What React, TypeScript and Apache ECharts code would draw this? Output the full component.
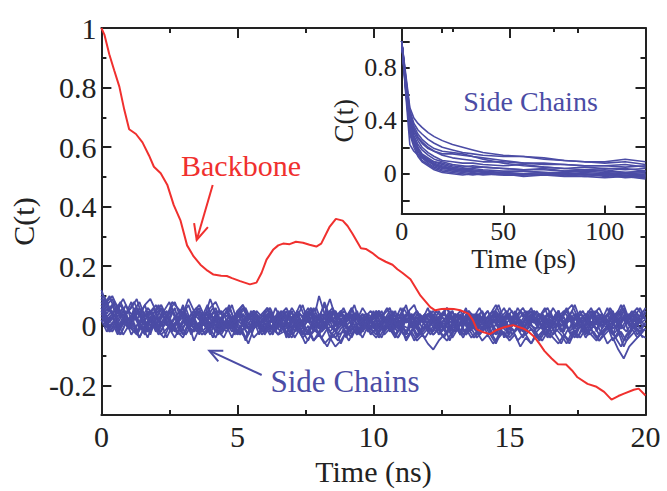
import React, { useEffect, useRef } from "react";
import * as echarts from "echarts";

// ---------- Main panel: time grids (ns) for side-chain traces ----------
const mainTime = [
  0, 0.2, 0.4, 0.6, 0.8, 1, 1.2, 1.4, 1.6, 1.8,
  2, 2.2, 2.4, 2.6, 2.8, 3, 3.2, 3.4, 3.6, 3.8,
  4, 4.2, 4.4, 4.6, 4.8, 5, 5.2, 5.4, 5.6, 5.8,
  6, 6.2, 6.4, 6.6, 6.8, 7, 7.2, 7.4, 7.6, 7.8,
  8, 8.2, 8.4, 8.6, 8.8, 9, 9.2, 9.4, 9.6, 9.8,
  10, 10.2, 10.4, 10.6, 10.8, 11, 11.2, 11.4, 11.6, 11.8,
  12, 12.2, 12.4, 12.6, 12.8, 13, 13.2, 13.4, 13.6, 13.8,
  14, 14.2, 14.4, 14.6, 14.8, 15, 15.2, 15.4, 15.6, 15.8,
  16, 16.2, 16.4, 16.6, 16.8, 17, 17.2, 17.4, 17.6, 17.8,
  18, 18.2, 18.4, 18.6, 18.8, 19, 19.2, 19.4, 19.6, 19.8,
  20,
];
const mainTimeB = [
  0.1, 0.3, 0.5, 0.7, 0.9, 1.1, 1.3, 1.5, 1.7, 1.9,
  2.1, 2.3, 2.5, 2.7, 2.9, 3.1, 3.3, 3.5, 3.7, 3.9,
  4.1, 4.3, 4.5, 4.7, 4.9, 5.1, 5.3, 5.5, 5.7, 5.9,
  6.1, 6.3, 6.5, 6.7, 6.9, 7.1, 7.3, 7.5, 7.7, 7.9,
  8.1, 8.3, 8.5, 8.7, 8.9, 9.1, 9.3, 9.5, 9.7, 9.9,
  10.1, 10.3, 10.5, 10.7, 10.9, 11.1, 11.3, 11.5, 11.7, 11.9,
  12.1, 12.3, 12.5, 12.7, 12.9, 13.1, 13.3, 13.5, 13.7, 13.9,
  14.1, 14.3, 14.5, 14.7, 14.9, 15.1, 15.3, 15.5, 15.7, 15.9,
  16.1, 16.3, 16.5, 16.7, 16.9, 17.1, 17.3, 17.5, 17.7, 17.9,
  18.1, 18.3, 18.5, 18.7, 18.9, 19.1, 19.3, 19.5, 19.7, 19.9,
];

const sc01 = [
  0.11, 0.08, 0.1, 0.06, 0.09, 0.05, 0.08, 0.04, 0.07, 0.09,
  0.05, 0.07, 0.03, 0.08, 0.06, 0.04, 0.09, 0.05, 0.07, 0.03,
  0.06, 0.08, 0.04, 0.06, 0.02, 0.05, 0.07, 0.03, 0.05, 0.02,
  0.04, 0.06, 0.02, 0.05, 0.03, 0.01, 0.05, 0.03, 0.06, 0.02,
  0.04, 0.01, 0.03, 0.05, 0.02, 0.04, 0.0, 0.03, 0.01, 0.04,
  0.02, 0.05, 0.01, 0.03, 0.0, 0.04, 0.02, 0.03, 0.0, 0.02,
  0.04, 0.01, 0.03, -0.01, 0.02, 0.04, 0.0, 0.03, 0.01, 0.02,
  -0.01, 0.03, 0.01, 0.04, 0.0, 0.02, 0.03, -0.01, 0.02, 0.04,
  0.01, 0.03, 0.0, 0.02, 0.05, 0.01, 0.03, 0.0, 0.02, 0.04,
  0.01, 0.03, -0.01, 0.02, 0.04, 0.0, 0.03, 0.01, 0.05, 0.02,
  0.03,
];
const sc02 = [
  0.06, 0.02, 0.04, -0.01, 0.03, 0.0, 0.04, 0.01, -0.02, 0.03,
  0.0, 0.04, 0.01, -0.02, 0.02, 0.05, 0.0, 0.02, -0.01, 0.03,
  0.01, -0.02, 0.03, 0.0, 0.02, -0.03, 0.01, 0.04, -0.01, 0.02,
  -0.02, 0.01, 0.03, -0.01, 0.0, -0.03, -0.01, -0.04, -0.02, -0.05,
  -0.03, -0.06, -0.04, -0.07, -0.05, -0.02, -0.04, 0.0, -0.02, 0.01,
  -0.01, 0.02, -0.02, 0.0, -0.03, -0.01, -0.04, -0.02, -0.05, -0.03,
  -0.06, -0.08, -0.05, -0.03, -0.01, 0.01, -0.02, 0.02, 0.0, 0.03,
  0.01, -0.01, 0.02, 0.0, 0.03, -0.01, 0.01, 0.02, -0.02, 0.01,
  0.03, 0.0, 0.02, -0.01, 0.01, 0.03, -0.02, 0.0, 0.02, -0.01,
  0.01, 0.03, 0.0, 0.02, -0.01, 0.01, 0.03, 0.0, 0.02, -0.01,
  0.01,
];
const sc03 = [
  0.04, 0.01, 0.03, -0.01, 0.02, 0.0, -0.02, 0.02, 0.0, 0.03,
  -0.01, 0.01, 0.03, 0.0, -0.02, 0.01, 0.02, -0.01, 0.01, -0.03,
  0.0, 0.02, -0.01, 0.01, -0.02, 0.02, 0.0, -0.03, 0.01, 0.0,
  -0.01, 0.02, 0.0, -0.02, 0.01, -0.01, 0.02, 0.0, -0.03, 0.01,
  -0.01, 0.01, -0.02, 0.0, 0.02, -0.01, 0.0, -0.03, 0.01, -0.01,
  0.01, -0.02, 0.0, 0.02, -0.01, 0.01, -0.02, 0.0, -0.04, -0.02,
  0.0, -0.03, -0.01, 0.01, -0.02, 0.0, -0.03, -0.01, -0.04, -0.02,
  -0.05, -0.03, -0.06, -0.04, -0.02, -0.05, -0.03, -0.07, -0.04, -0.06,
  -0.03, -0.05, -0.02, -0.04, -0.06, -0.03, -0.05, -0.02, -0.04, -0.01,
  -0.03, -0.05, -0.02, -0.06, -0.04, -0.08, -0.11, -0.07, -0.05, -0.03,
  -0.04,
];
const sc04 = [
  0.09, 0.05, 0.07, 0.03, 0.06, 0.02, 0.05, 0.08, 0.03, 0.05,
  0.02, 0.06, 0.03, 0.05, 0.01, 0.04, 0.07, 0.02, 0.05, 0.03,
  0.09, 0.04, 0.02, 0.05, 0.01, 0.03, 0.06, 0.02, 0.04, 0.01,
  0.03, 0.05, 0.01, 0.04, 0.02, 0.06, 0.03, 0.01, 0.05, 0.02,
  0.1, 0.04, 0.02, 0.05, 0.01, 0.03, 0.06, 0.02, 0.04, 0.0,
  0.03, 0.05, 0.01, 0.04, 0.02, 0.06, 0.01, 0.03, 0.05, 0.02,
  0.04, 0.01, 0.05, 0.02, 0.04, 0.0, 0.03, 0.05, 0.01, 0.04,
  0.02, 0.05, 0.01, 0.03, 0.06, 0.02, 0.04, 0.0, 0.03, 0.05,
  0.01, 0.04, 0.02, 0.06, 0.03, 0.01, 0.04, 0.02, 0.05, 0.01,
  0.03, 0.05, 0.02, 0.04, 0.0, 0.03, 0.06, 0.02, 0.04, 0.01,
  0.05,
];
const sc05 = [
  0.05, 0.0, 0.03, -0.02, 0.02, -0.01, 0.03, 0.0, -0.03, 0.02,
  0.0, -0.02, 0.03, 0.01, -0.03, 0.02, -0.01, 0.01, -0.02, 0.03,
  -0.01, 0.02, -0.03, 0.0, 0.03, -0.02, 0.01, -0.01, 0.02, -0.03,
  0.01, -0.02, 0.02, 0.0, -0.03, 0.03, -0.01, 0.01, -0.02, 0.02,
  -0.01, 0.03, 0.0, -0.02, 0.02, -0.03, 0.01, 0.0, 0.03, -0.02,
  0.01, -0.01, 0.03, -0.02, 0.0, 0.02, -0.03, 0.01, -0.01, 0.03,
  0.0, -0.02, 0.02, -0.01, 0.03, 0.0, -0.03, 0.02, -0.01, 0.01,
  -0.02, 0.03, 0.0, -0.03, 0.02, -0.01, 0.01, -0.02, 0.03, 0.0,
  -0.01, 0.02, -0.03, 0.01, 0.0, -0.02, 0.03, -0.01, 0.02, -0.03,
  0.01, -0.01, 0.02, 0.0, -0.03, 0.02, -0.01, 0.03, 0.0, -0.02,
  0.01,
];
const sc06 = [
  0.07, 0.03, 0.05, 0.01, 0.04, -0.01, 0.03, 0.05, 0.0, 0.03,
  0.05, 0.0, 0.03, 0.06, 0.01, 0.03, -0.01, 0.04, 0.02, 0.0,
  0.03, 0.05, 0.0, 0.02, -0.01, 0.04, 0.01, 0.03, 0.05, 0.0,
  0.02, 0.04, -0.01, 0.03, 0.01, 0.05, 0.0, 0.02, 0.04, -0.01,
  0.03, 0.07, 0.01, 0.03, 0.0, 0.04, 0.02, 0.05, -0.01, 0.02,
  0.04, 0.0, 0.03, 0.01, 0.05, -0.01, 0.02, 0.04, 0.0, 0.03,
  0.01, 0.04, -0.01, 0.02, 0.05, 0.0, 0.03, 0.01, 0.04, 0.02,
  -0.01, 0.03, 0.05, 0.01, 0.02, 0.04, 0.0, 0.03, 0.05, 0.01,
  0.03, 0.0, 0.04, 0.02, 0.05, 0.01, 0.03, -0.01, 0.04, 0.02,
  0.05, 0.01, 0.03, 0.0, 0.04, 0.02, 0.05, 0.01, 0.03, 0.06,
  0.02,
];
const sc07 = [
  0.03, 0.0, -0.02, 0.01, -0.03, 0.0, -0.01, -0.04, 0.0, -0.02,
  0.01, -0.03, -0.01, 0.01, -0.02, -0.04, 0.0, -0.02, 0.01, -0.03,
  -0.01, -0.04, 0.0, -0.02, 0.01, -0.03, -0.01, 0.0, -0.04, -0.02,
  0.0, -0.03, -0.01, 0.01, -0.02, -0.04, 0.0, -0.02, -0.05, -0.01,
  -0.03, 0.0, -0.02, -0.04, -0.01, 0.01, -0.03, -0.01, -0.04, 0.0,
  -0.02, 0.01, -0.03, -0.01, -0.04, 0.0, -0.02, 0.01, -0.03, -0.01,
  0.0, -0.03, -0.01, -0.04, 0.0, -0.02, 0.01, -0.03, -0.01, -0.04,
  -0.02, 0.0, -0.03, -0.01, 0.01, -0.04, -0.02, 0.0, -0.03, -0.01,
  -0.04, -0.02, 0.0, -0.03, -0.01, 0.01, -0.02, -0.04, 0.0, -0.02,
  -0.01, -0.04, -0.02, 0.0, -0.03, -0.01, -0.05, -0.02, 0.0, -0.03,
  -0.01,
];
const sc08 = [
  0.08, 0.04, 0.07, 0.02, 0.05, 0.0, 0.06, 0.03, 0.07, 0.01,
  0.04, 0.06, 0.0, 0.05, 0.02, 0.07, 0.01, 0.04, 0.06, 0.0,
  0.03, 0.06, 0.01, 0.05, 0.0, 0.04, 0.07, 0.02, 0.04, -0.01,
  0.04, 0.01, 0.06, 0.02, 0.05, -0.01, 0.03, 0.07, 0.01, 0.04,
  0.02, 0.08, 0.03, 0.0, 0.05, 0.02, 0.06, 0.0, 0.04, 0.01,
  0.05, 0.0, 0.04, 0.06, 0.01, 0.03, 0.07, 0.0, 0.04, 0.02,
  0.06, 0.01, 0.03, 0.05, -0.01, 0.04, 0.02, 0.06, 0.0, 0.03,
  0.05, 0.01, 0.04, 0.07, 0.02, 0.04, 0.0, 0.05, 0.03, 0.06,
  0.01, 0.04, 0.06, 0.02, 0.05, 0.0, 0.03, 0.07, 0.02, 0.04,
  0.0, 0.05, 0.02, 0.06, 0.01, 0.04, 0.07, 0.02, 0.05, 0.03,
  0.06,
];
const sc09 = [
  0.02, -0.02, 0.01, -0.03, 0.02, -0.01, 0.01, -0.04, 0.0, 0.02,
  -0.02, 0.01, -0.04, 0.0, 0.02, -0.03, 0.01, -0.05, -0.01, 0.01,
  -0.03, 0.02, -0.02, 0.0, -0.04, 0.01, -0.02, -0.06, -0.01, 0.01,
  -0.03, 0.0, -0.02, 0.02, -0.04, -0.01, 0.01, -0.03, 0.0, -0.05,
  -0.02, 0.01, -0.04, -0.01, -0.06, -0.02, 0.0, -0.03, 0.01, -0.02,
  0.0, -0.04, -0.01, 0.02, -0.03, 0.0, -0.05, -0.02, 0.01, -0.03,
  -0.01, 0.02, -0.03, 0.0, -0.05, -0.01, 0.01, -0.03, 0.0, -0.02,
  0.01, -0.03, -0.01, 0.02, -0.04, 0.0, -0.02, 0.01, -0.03, -0.06,
  -0.02, 0.0, -0.04, -0.01, 0.01, -0.03, -0.06, -0.02, 0.0, -0.04,
  -0.01, 0.01, -0.03, 0.0, -0.05, -0.02, -0.07, -0.03, 0.0, -0.02,
  -0.01,
];
const sc10 = [
  0.1, 0.06, 0.04, 0.07, 0.02, 0.05, 0.03, 0.06, 0.02, 0.04,
  0.07, 0.03, 0.05, 0.01, 0.04, 0.06, 0.02, 0.05, 0.03, 0.0,
  0.04, 0.02, 0.05, 0.03, 0.07, 0.01, 0.04, 0.02, 0.05, 0.03,
  0.01, 0.05, 0.02, 0.04, 0.06, 0.02, 0.04, 0.01, 0.03, 0.06,
  0.02, 0.04, 0.09, 0.03, 0.05, 0.01, 0.04, 0.02, 0.06, 0.03,
  0.01, 0.04, 0.02, 0.05, 0.03, 0.0, 0.04, 0.02, 0.05, 0.01,
  0.03, 0.05, 0.02, 0.04, 0.01, 0.03, 0.05, 0.02, 0.04, 0.0,
  0.03, 0.05, 0.01, 0.04, 0.02, 0.06, 0.03, 0.01, 0.04, 0.02,
  0.05, 0.02, 0.04, 0.0, 0.03, 0.05, 0.02, 0.04, 0.01, 0.03,
  0.06, 0.02, 0.04, 0.01, 0.03, 0.05, 0.02, 0.04, 0.0, 0.03,
  0.04,
];
const sc11 = [
  0.06, 0.01, 0.04, -0.02, 0.03, 0.0, 0.05, -0.01, 0.02, -0.03,
  0.03, 0.0, 0.04, -0.02, 0.01, 0.05, -0.01, 0.02, -0.03, 0.03,
  0.0, 0.04, -0.02, 0.02, -0.01, 0.05, 0.0, -0.03, 0.03, 0.01,
  -0.02, 0.04, 0.0, 0.03, -0.03, 0.01, 0.05, -0.01, 0.02, -0.02,
  0.03, 0.0, 0.05, -0.02, 0.02, -0.04, 0.01, 0.04, -0.02, 0.02,
  0.0, 0.05, -0.02, 0.03, -0.01, 0.02, -0.03, 0.04, 0.0, 0.02,
  -0.02, 0.03, 0.0, 0.05, -0.01, 0.02, -0.03, 0.04, 0.01, -0.02,
  0.03, -0.01, 0.04, 0.0, 0.02, -0.03, 0.05, 0.01, -0.02, 0.03,
  0.0, 0.04, -0.02, 0.02, 0.05, -0.01, 0.03, -0.03, 0.02, 0.0,
  0.04, -0.02, 0.02, 0.0, 0.05, -0.01, 0.03, -0.03, 0.04, 0.01,
  0.02,
];
const sc12 = [
  0.12, 0.07, 0.09, 0.04, 0.06, 0.02, 0.05, 0.01, 0.04, 0.0,
  0.03, 0.01, 0.04, -0.01, 0.02, 0.04, 0.0, 0.03, -0.01, 0.02,
  0.04, 0.0, 0.02, -0.01, 0.03, 0.01, 0.04, -0.01, 0.02, 0.0,
  0.03, -0.01, 0.02, 0.04, 0.0, 0.02, -0.02, 0.01, 0.03, 0.0,
  0.02, -0.01, 0.03, 0.01, 0.04, 0.0, 0.02, -0.02, 0.01, 0.03,
  0.0, 0.02, -0.01, 0.03, 0.01, -0.02, 0.02, 0.0, 0.03, -0.01,
  0.01, 0.03, 0.0, 0.02, -0.02, 0.01, 0.04, 0.0, 0.02, -0.01,
  0.03, 0.0, 0.02, -0.01, 0.01, 0.04, 0.0, 0.02, -0.02, 0.01,
  0.03, -0.01, 0.02, 0.0, 0.04, 0.01, -0.01, 0.03, 0.0, 0.02,
  -0.01, 0.02, 0.04, 0.0, 0.01, -0.02, 0.03, 0.01, -0.01, 0.02,
  0.0,
];
const sideChainsMain = [sc01, sc02, sc03, sc04, sc05, sc06, sc07, sc08, sc09, sc10, sc11, sc12];

// traces sampled on the offset grid mainTimeB
const sb01 = [
  0.09, 0.05, 0.08, 0.03, 0.07, 0.02, 0.06, 0.01, 0.05, 0.03,
  0.0, 0.05, 0.02, 0.06, -0.01, 0.04, 0.01, 0.05, 0.0, 0.03,
  0.06, 0.01, 0.04, -0.01, 0.03, 0.05, 0.0, 0.04, 0.02, -0.01,
  0.04, 0.01, 0.05, 0.0, 0.03, -0.02, 0.04, 0.01, 0.06, 0.0,
  0.02, 0.05, -0.01, 0.03, 0.0, 0.04, 0.02, -0.02, 0.03, 0.01,
  0.05, 0.0, 0.03, -0.01, 0.04, 0.01, 0.05, -0.01, 0.02, 0.04,
  0.0, 0.03, -0.02, 0.02, 0.05, 0.0, 0.03, -0.01, 0.04, 0.01,
  0.03, -0.01, 0.05, 0.01, 0.03, 0.0, 0.04, -0.02, 0.02, 0.05,
  0.01, 0.03, -0.01, 0.04, 0.0, 0.02, 0.05, 0.01, -0.01, 0.03,
  0.04, 0.0, 0.02, 0.05, -0.01, 0.03, 0.01, 0.04, 0.0, 0.03,
];
const sb02 = [
  0.04, -0.01, 0.02, -0.03, 0.01, 0.03, -0.02, 0.0, -0.04, 0.01,
  -0.02, 0.02, -0.01, -0.04, 0.0, 0.02, -0.03, 0.01, -0.02, 0.0,
  -0.04, 0.01, -0.01, 0.02, -0.03, 0.0, -0.05, -0.01, 0.01, -0.02,
  0.0, -0.03, 0.02, -0.01, -0.04, 0.0, -0.02, -0.06, -0.03, -0.01,
  -0.04, -0.07, -0.03, -0.05, -0.01, -0.03, 0.0, -0.02, 0.01, -0.03,
  -0.01, -0.04, 0.0, -0.02, 0.01, -0.03, -0.01, -0.05, -0.02, 0.0,
  -0.03, 0.01, -0.02, 0.0, -0.04, -0.01, 0.02, -0.02, 0.0, -0.03,
  0.01, -0.02, -0.05, -0.01, 0.01, -0.03, 0.0, -0.02, 0.02, -0.01,
  -0.04, -0.01, 0.01, -0.03, -0.06, -0.02, 0.0, -0.04, -0.01, 0.01,
  -0.03, -0.05, -0.02, 0.0, -0.04, -0.07, -0.03, -0.01, -0.04, -0.02,
];
const sb03 = [
  0.1, 0.06, 0.03, 0.07, 0.04, 0.08, 0.02, 0.05, 0.03, 0.06,
  0.02, 0.05, 0.08, 0.03, 0.05, 0.01, 0.04, 0.06, 0.02, 0.04,
  0.01, 0.05, 0.03, 0.06, 0.02, 0.04, 0.0, 0.05, 0.02, 0.04,
  0.06, 0.01, 0.03, 0.05, 0.02, 0.04, 0.0, 0.03, 0.06, 0.02,
  0.04, 0.01, 0.05, 0.03, 0.06, 0.02, 0.04, 0.0, 0.03, 0.05,
  0.02, 0.04, 0.01, 0.05, 0.02, 0.06, 0.03, 0.0, 0.04, 0.02,
  0.05, 0.01, 0.03, 0.06, 0.02, 0.04, 0.01, 0.05, 0.02, 0.04,
  0.0, 0.03, 0.05, 0.02, 0.04, 0.01, 0.06, 0.03, 0.05, 0.01,
  0.04, 0.02, 0.05, 0.0, 0.03, 0.06, 0.02, 0.04, 0.01, 0.05,
  0.02, 0.04, 0.01, 0.06, 0.03, 0.05, 0.01, 0.04, 0.02, 0.05,
];
const sb04 = [
  0.03, 0.0, 0.02, -0.01, 0.03, 0.01, -0.02, 0.02, 0.0, 0.03,
  -0.01, 0.02, 0.0, 0.03, -0.02, 0.01, 0.02, -0.01, 0.03, 0.0,
  0.02, -0.02, 0.01, 0.03, 0.0, -0.01, 0.02, 0.0, 0.03, -0.02,
  0.01, 0.02, -0.01, 0.03, 0.0, 0.02, -0.02, 0.01, 0.03, -0.01,
  0.02, 0.0, 0.03, -0.01, 0.01, 0.02, -0.02, 0.02, 0.0, 0.03,
  -0.01, 0.01, 0.03, 0.0, -0.02, 0.02, 0.01, -0.01, 0.03, 0.0,
  0.02, -0.01, 0.01, 0.03, -0.02, 0.0, 0.02, 0.01, -0.01, 0.03,
  0.0, 0.02, -0.02, 0.01, 0.03, 0.0, 0.02, -0.01, 0.01, 0.03,
  -0.01, 0.02, 0.0, 0.03, -0.02, 0.01, 0.02, 0.0, 0.03, -0.01,
  0.01, 0.03, 0.0, -0.02, 0.02, 0.01, 0.03, -0.01, 0.02, 0.0,
];
const sb05 = [
  0.02, -0.02, 0.01, -0.01, 0.02, -0.03, 0.0, 0.02, -0.02, 0.01,
  -0.03, 0.0, 0.02, -0.02, 0.01, -0.03, 0.0, -0.01, 0.02, -0.02,
  0.0, -0.03, 0.01, -0.01, 0.02, -0.02, -0.04, 0.0, 0.01, -0.02,
  0.01, -0.01, -0.03, 0.01, -0.02, 0.0, 0.02, -0.03, -0.01, 0.01,
  -0.02, 0.0, -0.04, -0.01, 0.01, -0.02, 0.0, -0.03, 0.01, -0.01,
  -0.03, 0.0, 0.02, -0.02, -0.04, 0.0, -0.01, 0.01, -0.03, -0.01,
  0.01, -0.02, 0.0, -0.03, 0.01, -0.01, -0.04, 0.0, 0.02, -0.02,
  -0.01, 0.01, -0.03, 0.0, -0.02, 0.02, -0.01, -0.04, 0.0, -0.02,
  0.01, -0.03, -0.01, 0.01, -0.02, 0.0, -0.04, -0.01, 0.01, -0.02,
  0.0, -0.03, 0.01, -0.01, -0.04, 0.0, -0.02, 0.01, -0.03, -0.01,
];
const sb06 = [
  0.07, 0.1, 0.05, 0.08, 0.04, 0.06, 0.09, 0.03, 0.06, 0.04,
  0.07, 0.02, 0.05, 0.08, 0.03, 0.06, 0.01, 0.05, 0.03, 0.07,
  0.02, 0.05, 0.03, 0.07, 0.01, 0.04, 0.06, 0.02, 0.05, 0.03,
  0.06, 0.02, 0.04, 0.0, 0.05, 0.03, 0.07, 0.02, 0.04, 0.06,
  0.01, 0.04, 0.06, 0.02, 0.05, 0.03, 0.07, 0.01, 0.04, 0.02,
  0.05, 0.03, 0.06, 0.01, 0.04, 0.02, 0.05, 0.07, 0.02, 0.04,
  0.01, 0.05, 0.03, 0.06, 0.02, 0.04, 0.0, 0.05, 0.03, 0.06,
  0.02, 0.04, 0.07, 0.03, 0.05, 0.01, 0.04, 0.06, 0.02, 0.05,
  0.03, 0.06, 0.01, 0.04, 0.02, 0.05, 0.07, 0.03, 0.05, 0.01,
  0.04, 0.06, 0.02, 0.05, 0.03, 0.07, 0.02, 0.04, 0.06, 0.03,
];
const sb07 = [
  0.05, 0.01, 0.04, 0.0, 0.03, -0.01, 0.05, 0.02, -0.01, 0.04,
  0.01, 0.05, -0.01, 0.03, 0.0, 0.04, 0.01, -0.02, 0.03, 0.05,
  0.0, 0.03, -0.01, 0.04, 0.01, 0.05, -0.01, 0.02, 0.04, 0.0,
  0.03, -0.02, 0.02, 0.04, 0.0, 0.03, -0.01, 0.05, 0.01, 0.02,
  -0.01, 0.03, 0.05, 0.0, 0.02, -0.02, 0.04, 0.01, 0.03, -0.01,
  0.02, 0.05, 0.0, 0.03, -0.01, 0.04, 0.01, 0.03, -0.02, 0.02,
  0.04, 0.0, 0.03, 0.01, 0.05, -0.01, 0.02, 0.04, 0.0, 0.03,
  -0.01, 0.02, 0.04, 0.0, 0.03, 0.05, 0.01, -0.01, 0.03, 0.01,
  0.04, 0.0, 0.02, -0.01, 0.03, 0.05, 0.01, 0.03, -0.02, 0.02,
  0.05, 0.01, 0.03, 0.0, 0.04, -0.01, 0.02, 0.05, 0.01, 0.03,
];
const sb08 = [
  0.01, -0.02, 0.0, -0.03, 0.01, -0.01, -0.03, 0.0, -0.02, 0.01,
  -0.02, -0.04, 0.0, -0.01, -0.03, 0.01, -0.02, 0.0, -0.03, -0.01,
  0.01, -0.02, -0.04, 0.0, -0.01, -0.03, 0.0, -0.02, 0.01, -0.03,
  -0.01, 0.0, -0.03, -0.02, 0.01, -0.04, -0.01, -0.03, 0.0, -0.02,
  -0.04, -0.01, 0.0, -0.03, -0.02, -0.05, -0.01, -0.03, 0.0, -0.02,
  -0.04, -0.01, 0.01, -0.02, -0.04, -0.01, -0.03, 0.0, -0.02, -0.04,
  -0.01, 0.0, -0.03, -0.05, -0.02, 0.0, -0.03, -0.01, -0.04, -0.02,
  0.0, -0.03, -0.06, -0.02, -0.04, -0.01, -0.05, -0.03, 0.0, -0.02,
  -0.05, -0.02, -0.04, -0.01, -0.03, -0.06, -0.02, -0.04, 0.0, -0.03,
  -0.02, -0.05, -0.03, -0.01, -0.04, -0.02, -0.05, -0.03, -0.01, -0.04,
];
const sideChainsMainB = [sb01, sb02, sb03, sb04, sb05, sb06, sb07, sb08];

// ---------- Backbone (red) ----------
const backboneTime = [
  0, 0.11, 0.29, 0.47, 0.66, 0.84, 1.02, 1.27, 1.51, 1.75,
  1.93, 2.18, 2.42, 2.66, 2.91, 3.15, 3.39, 3.64, 3.9, 4.12,
  4.4, 4.61, 4.8, 5.1, 5.46, 5.7, 5.89, 6.07, 6.31, 6.5,
  6.68, 6.92, 7.15, 7.41, 7.65, 7.9, 8.08, 8.38, 8.62, 8.87,
  9.05, 9.23, 9.54, 9.72, 9.95, 10.2, 10.45, 10.7, 10.88, 11.06,
  11.36, 11.73, 12.09, 12.27, 12.5, 12.7, 12.95, 13.19, 13.49, 13.65,
  13.8, 14.05, 14.28, 14.53, 14.8, 15.13, 15.5, 15.7, 15.92, 16.1,
  16.29, 16.55, 16.78, 17.08, 17.3, 17.5, 17.87, 18.2, 18.48, 18.75,
  19, 19.21, 19.57, 19.75, 20,
];
const backboneC = [
  1, 0.978, 0.912, 0.858, 0.803, 0.726, 0.66, 0.644, 0.616, 0.572,
  0.534, 0.512, 0.474, 0.405, 0.353, 0.27, 0.233, 0.205, 0.185, 0.172,
  0.168, 0.167, 0.16, 0.15, 0.139, 0.145, 0.178, 0.222, 0.255, 0.27,
  0.276, 0.274, 0.282, 0.279, 0.272, 0.266, 0.276, 0.331, 0.359, 0.353,
  0.335, 0.309, 0.26, 0.258, 0.245, 0.227, 0.215, 0.205, 0.19, 0.178,
  0.156, 0.101, 0.0625, 0.052, 0.056, 0.057, 0.056, 0.052, 0.041, 0.02,
  -0.012, -0.022, -0.028, -0.014, -0.005, 0.002, -0.009, -0.02, -0.038, -0.06,
  -0.085, -0.11, -0.129, -0.13, -0.15, -0.173, -0.195, -0.205, -0.222, -0.248,
  -0.236, -0.228, -0.215, -0.211, -0.234,
];

// ---------- Inset: side chains, time in ps ----------
const insetTime = [0, 2, 4, 6, 8, 10, 13, 16, 20, 25, 30, 35, 40, 50, 60, 70, 80, 90, 100, 110, 120];
const ins01 = [1, 0.75, 0.5, 0.42, 0.38, 0.35, 0.31, 0.28, 0.25, 0.22, 0.2, 0.18, 0.16, 0.14, 0.13, 0.12, 0.1, 0.09, 0.09, 0.11, 0.09];
const ins02 = [1, 0.73, 0.48, 0.38, 0.33, 0.3, 0.26, 0.23, 0.2, 0.18, 0.16, 0.15, 0.14, 0.13, 0.13, 0.11, 0.1, 0.09, 0.08, 0.09, 0.07];
const ins03 = [1, 0.72, 0.46, 0.36, 0.3, 0.26, 0.22, 0.19, 0.17, 0.16, 0.15, 0.13, 0.12, 0.1, 0.08, 0.07, 0.07, 0.06, 0.06, 0.05, 0.06];
const ins04 = [1, 0.7, 0.44, 0.33, 0.27, 0.23, 0.19, 0.17, 0.15, 0.15, 0.14, 0.13, 0.11, 0.08, 0.06, 0.05, 0.04, 0.05, 0.04, 0.03, 0.04];
const ins05 = [1, 0.7, 0.42, 0.31, 0.25, 0.2, 0.16, 0.13, 0.1, 0.09, 0.08, 0.08, 0.07, 0.06, 0.07, 0.05, 0.04, 0.03, 0.04, 0.04, 0.02];
const ins06 = [1, 0.68, 0.4, 0.29, 0.22, 0.18, 0.14, 0.11, 0.09, 0.07, 0.06, 0.05, 0.05, 0.04, 0.03, 0.03, 0.02, 0.03, 0.02, 0.01, 0.02];
const ins07 = [1, 0.67, 0.38, 0.27, 0.2, 0.15, 0.12, 0.09, 0.07, 0.05, 0.04, 0.04, 0.03, 0.02, 0.02, 0.01, 0.01, 0.02, 0.01, 0.0, 0.01];
const ins08 = [1, 0.66, 0.36, 0.25, 0.18, 0.13, 0.1, 0.07, 0.05, 0.03, 0.02, 0.02, 0.01, 0.01, 0.0, 0.01, 0.0, 0.01, 0.0, -0.01, 0.0];
const ins09 = [1, 0.65, 0.35, 0.24, 0.17, 0.12, 0.08, 0.05, 0.03, 0.02, 0.01, 0.0, 0.0, 0.01, -0.01, 0.0, 0.01, -0.01, 0.0, 0.01, -0.01];
const ins10 = [1, 0.64, 0.33, 0.22, 0.15, 0.1, 0.07, 0.04, 0.02, 0.01, 0.0, -0.01, 0.0, -0.01, 0.0, -0.01, 0.0, 0.0, -0.01, -0.02, -0.01];
const ins11 = [1, 0.62, 0.3, 0.2, 0.13, 0.09, 0.06, 0.03, 0.01, 0.0, -0.01, 0.0, -0.01, 0.0, -0.02, -0.01, -0.01, 0.0, -0.02, -0.01, -0.03];
const ins12 = [1, 0.6, 0.22, 0.17, 0.14, 0.12, 0.1, 0.09, 0.08, 0.06, 0.05, 0.06, 0.05, 0.04, 0.03, 0.04, 0.02, 0.02, 0.03, 0.01, 0.02];
const ins13 = [1, 0.63, 0.32, 0.23, 0.17, 0.13, 0.09, 0.07, 0.05, 0.04, 0.03, 0.02, 0.02, 0.01, 0.02, 0.01, 0.0, -0.01, 0.0, -0.02, -0.02];
const ins14 = [1, 0.69, 0.43, 0.34, 0.28, 0.24, 0.2, 0.17, 0.14, 0.12, 0.11, 0.1, 0.09, 0.09, 0.08, 0.08, 0.07, 0.06, 0.06, 0.07, 0.05];
const ins15 = [1, 0.66, 0.37, 0.26, 0.19, 0.14, 0.11, 0.08, 0.06, 0.04, 0.03, 0.03, 0.02, 0.0, 0.0, -0.01, -0.02, -0.02, -0.03, -0.02, -0.04];
const ins16 = [1, 0.65, 0.34, 0.24, 0.18, 0.14, 0.1, 0.06, 0.04, 0.03, 0.02, 0.01, 0.0, -0.01, -0.01, 0.0, -0.01, -0.02, -0.01, -0.03, -0.02];
const sideChainsInset = [ins01, ins02, ins03, ins04, ins05, ins06, ins07, ins08, ins09, ins10, ins11, ins12, ins13, ins14, ins15, ins16];

// ---------- Tick positions ----------
const mainYMajor = [-0.2, 0, 0.2, 0.4, 0.6, 0.8, 1];
const mainYMinor = [-0.1, 0.1, 0.3, 0.5, 0.7, 0.9];
const insetYMajor = [0, 0.4, 0.8];
const insetYMinor = [-0.2, 0.2, 0.6, 1.0];
const insetXMajor = [0, 50, 100];
const insetXMinor = [25, 75];

const BLUE = "#4b4ca5";
const RED = "#f0302e";
const INK = "#222222";
const FONT = "Liberation Serif";

export default function App() {
  const ref = useRef<HTMLDivElement>(null);

  useEffect(() => {
    if (!ref.current) return;
    const chart = echarts.init(ref.current, undefined, { renderer: "svg" });

    const mainGrid = { left: 98, top: 28, width: 547.5, height: 394 };
    const insetGrid = { left: 401.7, top: 28, width: 243.8, height: 185.5 };

    const axisLine = { show: true, onZero: false, lineStyle: { color: INK, width: 2 } };
    const noLine = { show: false, onZero: false };
    const majorTick = (len: number, vals?: number[]) => ({
      show: true,
      inside: true,
      length: len,
      lineStyle: { color: INK, width: 2 },
      ...(vals ? { customValues: vals } : {}),
    });

    const fmt = (v: number) => String(Math.round(v * 1000) / 1000);

    const xAxis: any[] = [
      {
        type: "value", gridIndex: 0, min: 0, max: 20, interval: 5,
        axisLine, axisTick: majorTick(10),
        minorTick: { show: true, splitNumber: 2, length: 5, lineStyle: { color: INK, width: 2 } },
        splitLine: { show: false },
        axisLabel: { fontFamily: FONT, fontSize: 30, color: INK, margin: 6 },
        name: "Time (ns)", nameLocation: "middle", nameGap: 30,
        nameTextStyle: { fontFamily: FONT, fontSize: 30, color: INK },
      },
      {
        type: "value", gridIndex: 0, min: 0, max: 20, interval: 5, position: "top",
        axisLine, axisTick: majorTick(10),
        minorTick: { show: true, splitNumber: 2, length: 5, lineStyle: { color: INK, width: 2 } },
        splitLine: { show: false }, axisLabel: { show: false },
      },
      {
        type: "value", gridIndex: 1, min: 0, max: 120,
        axisLine, axisTick: majorTick(8, insetXMajor),
        splitLine: { show: false },
        axisLabel: { customValues: insetXMajor, fontFamily: FONT, fontSize: 26, color: INK, margin: 5 },
        name: "Time (ps)", nameLocation: "middle", nameGap: 30,
        nameTextStyle: { fontFamily: FONT, fontSize: 27, color: INK },
      },
      {
        type: "value", gridIndex: 1, min: 0, max: 120,
        axisLine: noLine, axisTick: majorTick(4, insetXMinor),
        splitLine: { show: false }, axisLabel: { show: false },
      },
    ];

    const yAxis: any[] = [
      {
        type: "value", gridIndex: 0, min: -0.3, max: 1, position: "left",
        axisLine, axisTick: majorTick(10, mainYMajor),
        splitLine: { show: false },
        axisLabel: { customValues: mainYMajor, formatter: fmt, fontFamily: FONT, fontSize: 30, color: INK, margin: 5 },
        name: "C(t)", nameLocation: "middle", nameGap: 58,
        nameTextStyle: { fontFamily: FONT, fontSize: 30, color: INK },
      },
      {
        type: "value", gridIndex: 0, min: -0.3, max: 1, position: "left",
        axisLine: noLine, axisTick: majorTick(5, mainYMinor),
        splitLine: { show: false }, axisLabel: { show: false },
      },
      {
        type: "value", gridIndex: 0, min: -0.3, max: 1, position: "right",
        axisLine, axisTick: majorTick(10, mainYMajor),
        splitLine: { show: false }, axisLabel: { show: false },
      },
      {
        type: "value", gridIndex: 0, min: -0.3, max: 1, position: "right",
        axisLine: noLine, axisTick: majorTick(5, mainYMinor),
        splitLine: { show: false }, axisLabel: { show: false },
      },
      {
        type: "value", gridIndex: 1, min: -0.3, max: 1.1, position: "left",
        axisLine, axisTick: majorTick(8, insetYMajor),
        splitLine: { show: false },
        axisLabel: { customValues: insetYMajor, formatter: fmt, fontFamily: FONT, fontSize: 26, color: INK, margin: 5 },
        name: "C(t)", nameLocation: "middle", nameGap: 44,
        nameTextStyle: { fontFamily: FONT, fontSize: 27, color: INK },
      },
      {
        type: "value", gridIndex: 1, min: -0.3, max: 1.1, position: "left",
        axisLine: noLine, axisTick: majorTick(8, insetYMinor),
        splitLine: { show: false }, axisLabel: { show: false },
      },
    ];

    const lineSeries = (name: string, data: number[][], xi: number, yi: number, width: number, color: string, z: number) => ({
      type: "line", name, xAxisIndex: xi, yAxisIndex: yi, data,
      showSymbol: false, symbol: "none",
      lineStyle: { color, width }, silent: true, z,
    });

    const series: any[] = [];
    sideChainsMain.forEach((s, k) => {
      series.push(lineSeries("sc" + k, mainTime.map((t, i) => [t, s[i]]), 0, 0, 1.8, BLUE, 2));
    });
    sideChainsMainB.forEach((s, k) => {
      series.push(lineSeries("sb" + k, mainTimeB.map((t, i) => [t, s[i]]), 0, 0, 1.8, BLUE, 2));
    });
    series.push(lineSeries("Backbone", backboneTime.map((t, i) => [t, backboneC[i]]), 0, 0, 2, RED, 3));
    sideChainsInset.forEach((s, k) => {
      series.push(lineSeries("ins" + k, insetTime.map((t, i) => [t, s[i]]), 2, 4, 1.6, BLUE, 2));
    });

    const graphic: any[] = [
      {
        type: "text", x: 241, y: 165,
        style: { text: "Backbone", fill: RED, font: `30px "${FONT}"`, textAlign: "center", textVerticalAlign: "middle" },
      },
      { type: "line", shape: { x1: 212.7, y1: 185, x2: 196.7, y2: 240 }, style: { stroke: RED, lineWidth: 2 } },
      { type: "polyline", shape: { points: [[194.1, 223.2], [196.7, 240], [207.9, 227.2]] }, style: { stroke: RED, lineWidth: 2, fill: "none" } },
      {
        type: "text", x: 345, y: 381,
        style: { text: "Side Chains", fill: BLUE, font: `31px "${FONT}"`, textAlign: "center", textVerticalAlign: "middle" },
      },
      { type: "line", shape: { x1: 261.7, y1: 375, x2: 209.3, y2: 350.7 }, style: { stroke: BLUE, lineWidth: 2 } },
      { type: "polyline", shape: { points: [[223.3, 350.7], [209.3, 350.7], [218.3, 361.4]] }, style: { stroke: BLUE, lineWidth: 2, fill: "none" } },
      {
        type: "text", x: 530.5, y: 101,
        style: { text: "Side Chains", fill: BLUE, font: `28px "${FONT}"`, textAlign: "center", textVerticalAlign: "middle" },
      },
    ];

    chart.setOption({
      animation: false,
      backgroundColor: "#ffffff",
      grid: [
        { ...mainGrid, containLabel: false },
        { ...insetGrid, containLabel: false },
      ],
      xAxis,
      yAxis,
      series,
      graphic,
    });

    return () => chart.dispose();
  }, []);

  return (
    <div
      ref={ref}
      style={{ position: "fixed", left: 0, top: 0, width: 667, height: 491, background: "#fff" }}
    />
  );
}
